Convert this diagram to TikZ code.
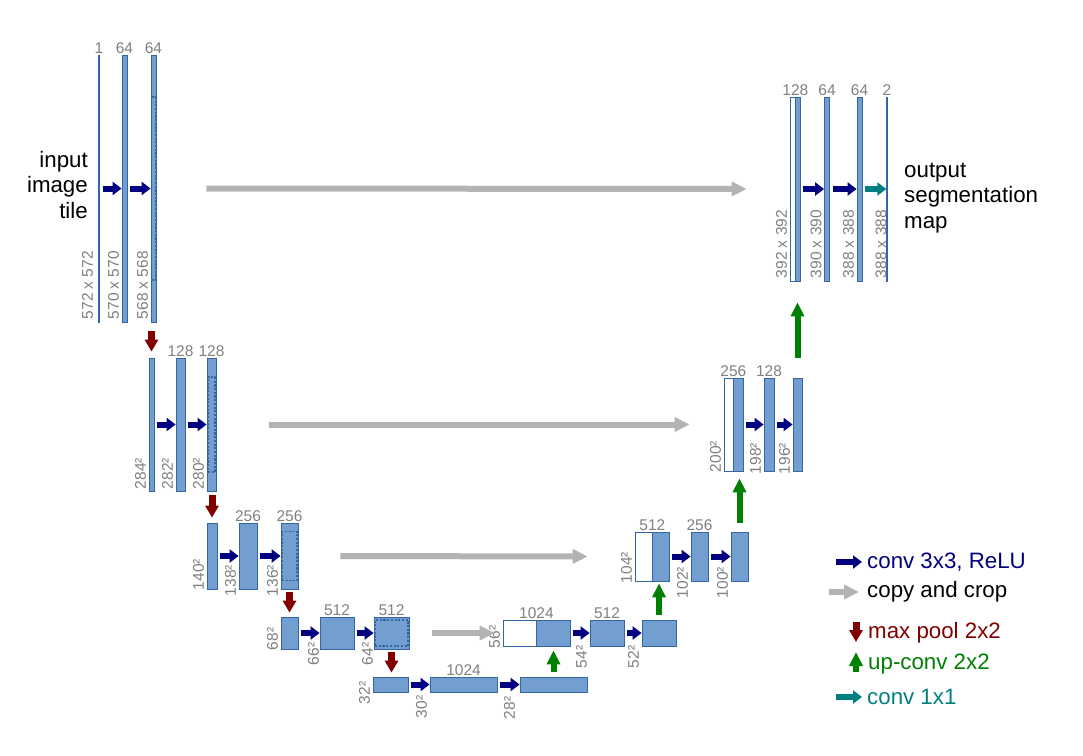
\documentclass[tikz,border=0pt]{standalone}
\usepackage{fontspec}
\setmainfont{Liberation Sans}
\usetikzlibrary{arrows.meta,positioning}
\definecolor{mapfill}{RGB}{114,159,207}
\definecolor{mapline}{RGB}{52,101,164}
\definecolor{numgray}{RGB}{128,128,128}
\definecolor{convblue}{RGB}{0,0,128}
\definecolor{copygray}{RGB}{179,179,179}
\definecolor{poolred}{RGB}{128,0,0}
\definecolor{upgreen}{RGB}{0,128,0}
\definecolor{oneteal}{RGB}{0,128,128}

\begin{document}
\begin{tikzpicture}[x=1pt, y=-1pt,
  fmap/.style={rectangle, draw=mapline, fill=mapfill, line width=0.8pt, inner sep=0pt},
  catmap/.style={rectangle, draw=mapline, fill=white, line width=0.8pt, inner sep=0pt},
  cropbox/.style={rectangle, draw=mapline, line width=1.2pt, dash pattern=on 2.2pt off 1.5pt, inner sep=0pt},
  num/.style={font=\fontsize{15.5}{18}\selectfont, text=numgray, inner sep=1pt},
  sizelbl/.style={font=\fontsize{15.5}{18}\selectfont, text=numgray, inner xsep=1pt, inner ysep=2.5pt, rotate=90, anchor=south west},
  bigtext/.style={font=\fontsize{22.3}{25.5}\selectfont, inner sep=0pt},
  convarrow/.style={-{Triangle[length=9pt,width=13pt]}, line width=6pt, convblue, shorten <=3pt},
  copyarrow/.style={-{Triangle[length=15pt,width=14pt]}, line width=6pt, copygray},
  poolarrow/.style={-{Triangle[length=12pt,width=13pt]}, line width=7pt, poolred},
  upconvarrow/.style={-{Triangle[length=14pt,width=13pt]}, line width=6pt, upgreen},
  onearrow/.style={-{Triangle[length=9pt,width=13pt]}, line width=6pt, oneteal, shorten <=3pt}
]
\useasboundingbox (0,0) rectangle (1083,755);

% contracting path
\node[fmap, minimum width=0.6pt, minimum height=267pt] (in) at (99,188.5) {};
\node[fmap, minimum width=5pt, minimum height=267pt] (c1a) at (124.5,188.5) {};
\node[fmap, minimum width=5pt, minimum height=267pt] (c1b) at (153.5,188.5) {};
\node[cropbox, minimum width=4pt, minimum height=183pt] (c1crop) at (c1b) {};

\node[fmap, minimum width=5pt, minimum height=133pt] (c2in) at (151.5,424.5) {};
\node[fmap, minimum width=9pt, minimum height=133pt] (c2a) at (180.5,424.5) {};
\node[fmap, minimum width=9pt, minimum height=133pt] (c2b) at (211.5,424.5) {};
\node[cropbox, minimum width=7pt, minimum height=95pt] (c2crop) at (c2b) {};

\node[fmap, minimum width=10pt, minimum height=66pt] (c3in) at (212,556) {};
\node[fmap, minimum width=18pt, minimum height=66pt] (c3a) at (248,556) {};
\node[fmap, minimum width=17pt, minimum height=66pt] (c3b) at (289.5,556) {};
\node[cropbox, minimum width=15pt, minimum height=49pt] (c3crop) at (c3b) {};

\node[fmap, minimum width=17pt, minimum height=32pt] (c4in) at (289.5,633) {};
\node[fmap, minimum width=34pt, minimum height=32pt] (c4a) at (337,633) {};
\node[fmap, minimum width=35pt, minimum height=32pt] (c4b) at (391.5,633) {};
\node[cropbox, minimum width=33pt, minimum height=26pt] (c4crop) at (c4b) {};

\node[fmap, minimum width=35pt, minimum height=15pt] (c5in) at (390.5,684.5) {};
\node[fmap, minimum width=67pt, minimum height=15pt] (c5a) at (463.5,684.5) {};
\node[fmap, minimum width=67pt, minimum height=15pt] (c5b) at (553.5,684.5) {};

% expansive path
\node[catmap, minimum width=33pt, minimum height=26pt] (u4w) at (519.5,633) {};
\node[fmap, minimum width=34pt, minimum height=26pt] (u4b) at (553,633) {};
\node[fmap, minimum width=34pt, minimum height=26pt] (u4c) at (607,633) {};
\node[fmap, minimum width=34pt, minimum height=26pt] (u4d) at (659,633) {};

\node[catmap, minimum width=17pt, minimum height=49pt] (u3w) at (643.5,556.5) {};
\node[fmap, minimum width=17pt, minimum height=49pt] (u3b) at (660.5,556.5) {};
\node[fmap, minimum width=17pt, minimum height=49pt] (u3c) at (699.5,556.5) {};
\node[fmap, minimum width=17pt, minimum height=49pt] (u3d) at (739.5,556.5) {};

\node[catmap, minimum width=9pt, minimum height=93pt] (u2w) at (728.5,424.5) {};
\node[fmap, minimum width=10pt, minimum height=93pt] (u2b) at (738,424.5) {};
\node[fmap, minimum width=10pt, minimum height=93pt] (u2c) at (769,424.5) {};
\node[fmap, minimum width=9pt, minimum height=93pt] (u2d) at (797.5,424.5) {};

\node[catmap, minimum width=5pt, minimum height=184pt] (u1w) at (792.5,189) {};
\node[fmap, minimum width=5pt, minimum height=184pt] (u1b) at (797.5,189) {};
\node[fmap, minimum width=5pt, minimum height=184pt] (u1c) at (827,189) {};
\node[fmap, minimum width=5pt, minimum height=184pt] (u1d) at (859.5,189) {};
\node[fmap, minimum width=0.6pt, minimum height=184pt] (out) at (887,189) {};

% channel numbers
\node[num, above=0pt of in] {1};
\node[num, above=0pt of c1a] {64};
\node[num, above=0pt of c1b] {64};
\node[num, above=0pt of c2a] {128};
\node[num, above=0pt of c2b] {128};
\node[num, above=0pt of c3a] {256};
\node[num, above=0pt of c3b] {256};
\node[num, above=0pt of c4a] {512};
\node[num, above=0pt of c4b] {512};
\node[num, above=0pt of c5a] {1024};
\node[num, above=0pt of u4w.north east] {1024};
\node[num, above=0pt of u4c] {512};
\node[num, above=0pt of u3w.north east] {512};
\node[num, above=0pt of u3c] {256};
\node[num, above=0pt of u2w.north east] {256};
\node[num, above=0pt of u2c] {128};
\node[num, above=0pt of u1w.north east] {128};
\node[num, above=0pt of u1c] {64};
\node[num, above=0pt of u1d] {64};
\node[num, above=0pt of out] {2};

% map sizes
\node[sizelbl] at ([xshift=-2.5pt,yshift=2pt]in.south west) {572 x 572};
\node[sizelbl] at ([yshift=2pt]c1a.south west) {570 x 570};
\node[sizelbl] at ([yshift=2pt]c1b.south west) {568 x 568};
\node[sizelbl] at ([yshift=1pt]c2in.south west) {284²};
\node[sizelbl] at ([yshift=1pt]c2a.south west) {282²};
\node[sizelbl] at ([yshift=1pt]c2b.south west) {280²};
\node[sizelbl] at ([yshift=-2pt]c3in.south west) {140²};
\node[sizelbl] at ([yshift=-8pt]c3a.south west) {138²};
\node[sizelbl] at ([yshift=-8pt]c3b.south west) {136²};
\node[sizelbl] at ([yshift=-2pt]c4in.south west) {68²};
\node[sizelbl] at ([xshift=2pt,yshift=-17pt]c4a.south west) {66²};
\node[sizelbl] at ([xshift=2pt,yshift=-17pt]c4b.south west) {64²};
\node[sizelbl] at ([yshift=-13pt]c5in.south west) {32²};
\node[sizelbl] at ([yshift=-27pt]c5a.south west) {30²};
\node[sizelbl] at ([xshift=-2pt,yshift=-28pt]c5b.south west) {28²};
\node[sizelbl] at ([yshift=-3pt]u4w.south west) {56²};
\node[sizelbl] at ([yshift=-23pt]u4c.south west) {54²};
\node[sizelbl] at ([yshift=-23pt]u4d.south west) {52²};
\node[sizelbl] at ([yshift=-3pt]u3w.south west) {104²};
\node[sizelbl] at ([yshift=-18pt]u3c.south west) {102²};
\node[sizelbl] at ([yshift=-18pt]u3d.south west) {100²};
\node[sizelbl] at ([yshift=-2pt]u2w.south west) {200²};
\node[sizelbl] at ([yshift=-4pt]u2c.south west) {198²};
\node[sizelbl] at ([yshift=-4pt]u2d.south west) {196²};
\node[sizelbl] at ([yshift=2pt]u1w.south west) {392 x 392};
\node[sizelbl] at ([yshift=2pt]u1c.south west) {390 x 390};
\node[sizelbl] at ([yshift=2pt]u1d.south west) {388 x 388};
\node[sizelbl] at ([xshift=3pt,yshift=2pt]out.south west) {388 x 388};

% conv 3x3 arrows
\draw[convarrow] (in) -- (c1a);
\draw[convarrow] (c1a) -- (c1b);
\draw[convarrow] (c2in) -- (c2a);
\draw[convarrow] (c2a) -- (c2b);
\draw[convarrow] (c3in) -- (c3a);
\draw[convarrow] (c3a) -- (c3b);
\draw[convarrow] (c4in) -- (c4a);
\draw[convarrow] (c4a) -- (c4b);
\draw[convarrow] (c5in) -- (c5a);
\draw[convarrow] (c5a) -- (c5b);
\draw[convarrow] (u4b) -- (u4c);
\draw[convarrow] (u4c) -- (u4d);
\draw[convarrow] (u3b) -- (u3c);
\draw[convarrow] (u3c) -- (u3d);
\draw[convarrow] (u2b) -- (u2c);
\draw[convarrow] (u2c) -- (u2d);
\draw[convarrow] (u1b) -- (u1c);
\draw[convarrow] (u1c) -- (u1d);
\draw[onearrow] (u1d) -- (out);

% max pool
\draw[poolarrow, shorten <=9pt, shorten >=6pt] (c1b.south -| c2in) -- (c2in.north);
\draw[poolarrow, shorten <=4pt, shorten >=5pt] (c2b.south -| c3in) -- (c3in.north);
\draw[poolarrow, shorten <=3pt, shorten >=4pt] (c3b.south) -- (c4in.north);
\draw[poolarrow, shorten <=3pt, shorten >=4pt] (c4b.south) -- (c4b.south |- c5in.north);

% up-conv
\draw[upconvarrow, shorten <=5pt, shorten >=4pt] (c5b.north) -- (c5b.north |- u4b.south);
\draw[upconvarrow, shorten <=5pt, shorten >=2pt] (u4d.north) -- (u4d.north |- u3b.south);
\draw[upconvarrow, shorten <=9pt, shorten >=7pt] (u3d.north) -- (u3d.north |- u2b.south);
\draw[upconvarrow, shorten <=20pt, shorten >=21pt] (u2d.north) -- (u2d.north |- u1b.south);

% copy and crop
\draw[copyarrow, shorten <=50pt, shorten >=43pt] (c1b) -- (u1w);
\draw[copyarrow, shorten <=53pt, shorten >=34pt] (c2b) -- (u2w);
\draw[copyarrow, shorten <=42pt, shorten >=47pt] (c3b) -- (u3w);
\draw[copyarrow, shorten <=23pt, shorten >=8pt] (c4b) -- (u4w);

% input / output
\node[bigtext, align=right, anchor=east] (intext) at (88,185) {input\\image\\tile};
\node[bigtext, align=left, anchor=west] (outtext) at (904,198) {output\\segmentation\\map};

% legend
\node[bigtext, text=convblue, anchor=base west] (lgconv) at (867,568) {conv 3x3, ReLU};
\node[bigtext, anchor=base west] (lgcopy) at (867,597) {copy and crop};
\node[bigtext, text=poolred, anchor=base west] (lgpool) at (868,638) {max pool 2x2};
\node[bigtext, text=upgreen, anchor=base west] (lgup) at (868,669) {up-conv 2x2};
\node[bigtext, text=oneteal, anchor=base west] (lgone) at (867,704) {conv 1x1};
\coordinate (k1a) at (836,562); \coordinate (k1b) at (862,562);
\coordinate (k2a) at (829,592); \coordinate (k2b) at (859,592);
\coordinate (k3a) at (856,622); \coordinate (k3b) at (856,642);
\coordinate (k4a) at (856,672); \coordinate (k4b) at (856,652);
\coordinate (k5a) at (836,697); \coordinate (k5b) at (862,697);
\draw[convarrow, shorten <=0pt] (k1a) -- (k1b);
\draw[copyarrow] (k2a) -- (k2b);
\draw[poolarrow] (k3a) -- (k3b);
\draw[upconvarrow] (k4a) -- (k4b);
\draw[onearrow, shorten <=0pt] (k5a) -- (k5b);
\end{tikzpicture}
\end{document}
